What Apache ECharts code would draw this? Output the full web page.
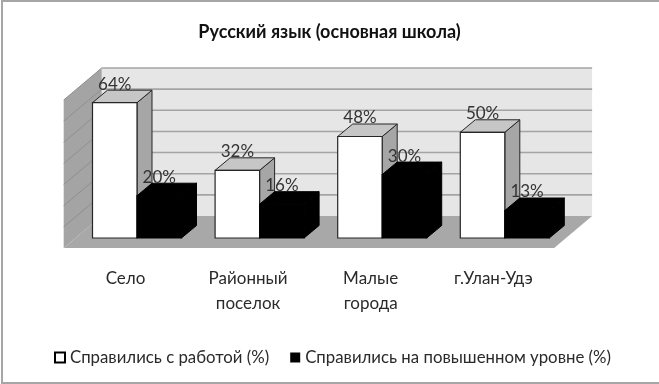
<!DOCTYPE html>
<html><head><meta charset="utf-8">
<style>
html,body{margin:0;padding:0;background:#fff}
#c{position:absolute;left:0;top:0;width:659px;height:384px}
#f{position:absolute;left:1px;top:0;width:660px;height:384px;box-sizing:border-box;border-left:2px solid #a6a6a6;border-top:2px solid #a6a6a6;border-bottom:2px solid #a6a6a6;pointer-events:none}
</style>
<script src="https://cdn.jsdelivr.net/npm/echarts@6/dist/echarts.min.js"></script>
</head><body><div id="c"></div><div id="f"></div>
<script>
const titleText = 'Русский язык (основная школа)';
const categories = ['Село', 'Районный\nпоселок', 'Малые\nгорода', 'г.Улан-Удэ'];
const doneValues = [64, 32, 48, 50];
const higherValues = [20, 16, 30, 13];
const seriesNames = ['Справились с работой (%)', 'Справились на повышенном уровне (%)'];
const gridTicks = [0, 10, 20, 30, 40, 50, 60, 70];

const font = 'Lato, "Open Sans", sans-serif';
const depthBar = [15, -12.5];     // bar depth
const depthBack = [26, -22];      // bar front plane -> back wall
const depthFront = [-12, 10];     // bar front plane -> floor front edge
const barShare = 0.363;

const chart = echarts.init(document.getElementById('c'));

function poly(points, fill, stroke, lw) {
  return {type: 'polygon', shape: {points}, style: {fill, stroke: stroke || fill, lineWidth: lw === undefined ? 1 : lw}};
}
function shift(p, d) { return [p[0] + d[0], p[1] + d[1]]; }

function renderBg(params, api) {
  const v = api.value(0);
  const first = api.coord([0, v]);
  const last = api.coord([categories.length - 1, v]);
  const band = api.size([1, 0])[0];
  const l = [first[0] - band / 2, first[1]];
  const r = [last[0] + band / 2, last[1]];
  const children = [];
  if (params.dataIndex === 0) {
    const top = api.coord([0, gridTicks[gridTicks.length - 1]])[1];
    const bl = shift(l, depthBack), br = shift(r, depthBack), fl = shift(l, depthFront), fr = shift(r, depthFront);
    const dy = top - l[1];
    children.push(poly([bl, br, [br[0], br[1] + dy], [bl[0], bl[1] + dy]], '#e6e6e6', 'none', 0));
    children.push(poly([fl, bl, [bl[0], bl[1] + dy], [fl[0], fl[1] + dy]], '#a4a4a4', 'none', 0));
    children.push(poly([fl, fr, br, bl], '#a8a8a8', 'none', 0));
  } else {
    const a = shift(l, depthFront), b = shift(l, depthBack), c = shift(r, depthBack);
    children.push({type: 'polyline', shape: {points: [a, b]}, style: {stroke: '#8f8f8f', fill: 'none', lineWidth: 1}});
    children.push({type: 'polyline', shape: {points: [b, c]}, style: {stroke: '#a4a4a4', fill: 'none', lineWidth: 1.6}});
  }
  return {type: 'group', children};
}

function makeBars(side, dark) {
  return function (params, api) {
    const cat = api.value(0), val = api.value(1);
    const c = api.coord([cat, val]);
    const base = api.coord([cat, 0]);
    const w = api.size([1, 0])[0] * barShare;
    const x0 = side === 0 ? c[0] - w : c[0];
    const x1 = x0 + w;
    const tl = [x0, c[1]], tr = [x1, c[1]], bl = [x0, base[1]], br = [x1, base[1]];
    const edge = dark ? '#000' : '#262626';
    return {type: 'group', children: [
      poly([tr, br, shift(br, depthBar), shift(tr, depthBar)], dark ? '#000' : '#a6a6a6', edge, 1),
      poly([tl, tr, shift(tr, depthBar), shift(tl, depthBar)], dark ? '#000' : '#c6c6c6', edge, 1),
      poly([tl, tr, br, bl], dark ? '#000' : '#fff', edge, 1.2),
      {type: 'text', style: {text: val + '%', x: (x0 + x1) / 2, y: c[1] - 18.5, align: 'center', verticalAlign: 'middle',
        fill: '#333', font: '17px ' + font}}
    ]};
  };
}

chart.setOption({
  animation: false,
  backgroundColor: '#fff',
  title: {text: titleText, left: 'center', top: 18, textStyle: {fontFamily: font, fontSize: 18, fontWeight: 'bold', color: '#111'}},
  legend: {
    left: 49, top: 344, itemWidth: 10, itemHeight: 10, itemGap: 21, icon: 'rect',
    data: seriesNames,
    textStyle: {fontFamily: font, fontSize: 16.8, color: '#2a2a2a'}
  },
  grid: {left: 75.7, top: 90, width: 490.4, height: 148},
  xAxis: {
    type: 'category', data: categories,
    axisLine: {show: false}, axisTick: {show: false},
    axisLabel: {margin: 28, fontFamily: font, fontSize: 17, color: '#2a2a2a', lineHeight: 25, padding: [0, 23, 0, 0], verticalAlign: 'top', interval: 0}
  },
  yAxis: {type: 'value', min: 0, max: 70, interval: 10, show: false, splitLine: {show: false}},
  series: [
    {type: 'custom', silent: true, renderItem: renderBg, encode: {y: 0}, data: gridTicks.map(v => [v]), clip: false, z: 1},
    {type: 'custom', name: seriesNames[0], renderItem: makeBars(0, false), encode: {x: 0, y: 1},
     itemStyle: {color: '#fff', borderColor: '#000', borderWidth: 1.5}, data: doneValues.map((v, i) => [i, v]), clip: false, z: 2},
    {type: 'custom', name: seriesNames[1], renderItem: makeBars(1, true), encode: {x: 0, y: 1},
     itemStyle: {color: '#000'}, data: higherValues.map((v, i) => [i, v]), clip: false, z: 3}
  ]
});
</script></body></html>
